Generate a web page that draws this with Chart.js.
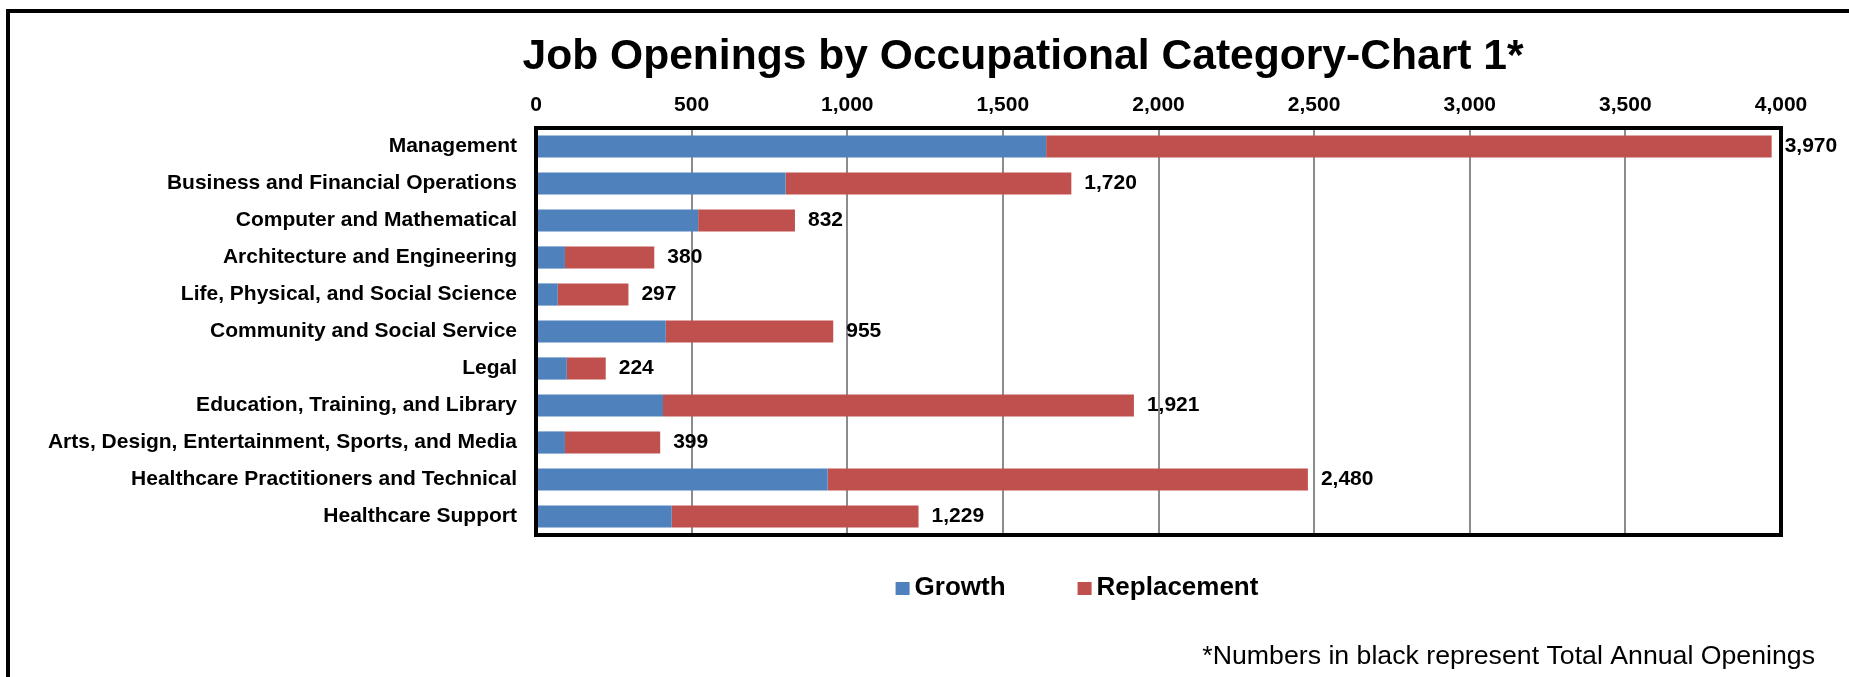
<!DOCTYPE html>
<html lang="en">
<head>
<meta charset="utf-8">
<title>Job Openings by Occupational Category-Chart 1</title>
<script src="https://cdn.jsdelivr.net/npm/chart.js@4.4.1/dist/chart.umd.min.js"></script>
<style>
    html, body { margin: 0; padding: 0; background: #fff; overflow: hidden; }
    #contenedor { position: relative; width: 1849px; height: 677px; }
</style>
</head>
<body>
<div id="contenedor">
    <canvas id="graficoEmpleos" width="1849" height="677"></canvas>
</div>
<script>
// Datos
const categorias = [
    "Management",
    "Business and Financial Operations",
    "Computer and Mathematical",
    "Architecture and Engineering",
    "Life, Physical, and Social Science",
    "Community and Social Service",
    "Legal",
    "Education, Training, and Library",
    "Arts, Design, Entertainment, Sports, and Media",
    "Healthcare Practitioners and Technical",
    "Healthcare Support"
];
const crecimiento = [1639, 802, 521, 93, 70, 417, 99, 408, 93, 937, 436];
const reemplazo = [2331, 918, 311, 287, 227, 538, 125, 1513, 306, 1543, 793];
const totales = [3970, 1720, 832, 380, 297, 955, 224, 1921, 399, 2480, 1229];
const marcasEje = [0, 500, 1000, 1500, 2000, 2500, 3000, 3500, 4000];

const titulo = "Job Openings by Occupational Category-Chart 1*";
const nota = "*Numbers in black represent Total Annual Openings";

const FUENTE = "'Liberation Sans', Arial, sans-serif";

// Fondo blanco y marco exterior (solo se ven el borde izquierdo y el de arriba)
const pluginMarco = {
    id: 'marco',
    beforeDraw(chart) {
        const ctx = chart.ctx;
        ctx.save();
        ctx.fillStyle = '#fff';
        ctx.fillRect(0, 0, chart.width, chart.height);
        ctx.fillStyle = '#000';
        ctx.fillRect(6, 9, 4, chart.height);
        ctx.fillRect(6, 9, chart.width, 4);
        ctx.restore();
    }
};

// Borde negro grueso alrededor del area de trazado
const pluginBordeArea = {
    id: 'bordeArea',
    afterDraw(chart) {
        const { ctx, chartArea: a } = chart;
        ctx.save();
        ctx.strokeStyle = '#000';
        ctx.lineWidth = 4;
        ctx.strokeRect(a.left, a.top, a.right - a.left, a.bottom - a.top);
        ctx.restore();
    }
};

// Totales en negro a la derecha de cada barra
const pluginTotales = {
    id: 'totales',
    afterDatasetsDraw(chart) {
        const ctx = chart.ctx;
        const meta = chart.getDatasetMeta(chart.data.datasets.length - 1);
        ctx.save();
        ctx.font = `bold 21px ${FUENTE}`;
        ctx.fillStyle = '#000';
        ctx.textAlign = 'left';
        ctx.textBaseline = 'middle';
        meta.data.forEach((barra, i) => {
            ctx.fillText(totales[i].toLocaleString('en-US'), barra.x + 13, barra.y);
        });
        ctx.restore();
    }
};

// Titulo, leyenda y nota al pie (el titulo no va centrado en el lienzo)
const pluginTextos = {
    id: 'textos',
    afterDraw(chart) {
        const ctx = chart.ctx;
        ctx.save();
        ctx.fillStyle = '#000';
        ctx.font = `bold 42.6px ${FUENTE}`;
        ctx.textAlign = 'center';
        ctx.textBaseline = 'alphabetic';
        ctx.fillText(titulo, 1023, 69);

        const caja = 14, separacion = 5, hueco = 72;
        ctx.font = `bold 26px ${FUENTE}`;
        const items = chart.data.datasets.map(ds => ({
            texto: ds.label,
            color: ds.backgroundColor,
            ancho: caja + separacion + ctx.measureText(ds.label).width
        }));
        const total = items.reduce((s, it) => s + it.ancho, 0) + hueco * (items.length - 1);
        let x = 1077 - total / 2;
        const y = 588;
        ctx.textAlign = 'left';
        ctx.textBaseline = 'middle';
        items.forEach(it => {
            ctx.fillStyle = it.color;
            ctx.fillRect(x, y - 6, caja, 13);
            ctx.fillStyle = '#000';
            ctx.fillText(it.texto, x + caja + separacion, y);
            x += it.ancho + hueco;
        });

        ctx.font = `26.7px ${FUENTE}`;
        ctx.textAlign = 'right';
        ctx.fillText(nota, 1815, 657);
        ctx.restore();
    }
};

function crearGrafico() {
    const ctx = document.getElementById("graficoEmpleos").getContext("2d");
    const fuenteEjes = { family: FUENTE, size: 21, weight: 'bold' };

    new Chart(ctx, {
        type: 'bar',
        data: {
            labels: categorias,
            datasets: [
                {
                    label: 'Growth',
                    data: crecimiento,
                    backgroundColor: '#4F81BD',
                    barPercentage: 0.6,
                    categoryPercentage: 1
                },
                {
                    label: 'Replacement',
                    data: reemplazo,
                    backgroundColor: '#C0504D',
                    barPercentage: 0.6,
                    categoryPercentage: 1
                }
            ]
        },
        options: {
            indexAxis: 'y',
            responsive: false,
            animation: false,
            locale: 'en-US',
            layout: { padding: { left: 20, right: 68, top: 90, bottom: 142 } },
            plugins: {
                legend: { display: false },
                tooltip: { enabled: false },
                title: { display: false }
            },
            scales: {
                x: {
                    position: 'top',
                    stacked: true,
                    min: 0,
                    max: 4000,
                    afterBuildTicks: escala => {
                        escala.ticks = marcasEje.map(v => ({ value: v }));
                    },
                    afterFit: escala => { escala.height = 38; },
                    grid: { color: '#8c8c8c', lineWidth: 2, drawTicks: false },
                    border: { display: false },
                    ticks: { color: '#000', padding: 10, font: fuenteEjes, maxRotation: 0, autoSkip: false }
                },
                y: {
                    stacked: true,
                    afterFit: escala => { escala.width = 516; },
                    grid: { display: false, drawTicks: false },
                    border: { display: false },
                    ticks: { color: '#000', padding: 19, font: fuenteEjes, autoSkip: false }
                }
            }
        },
        plugins: [pluginMarco, pluginTotales, pluginBordeArea, pluginTextos]
    });
}

document.addEventListener("DOMContentLoaded", crearGrafico);
</script>
</body>
</html>
